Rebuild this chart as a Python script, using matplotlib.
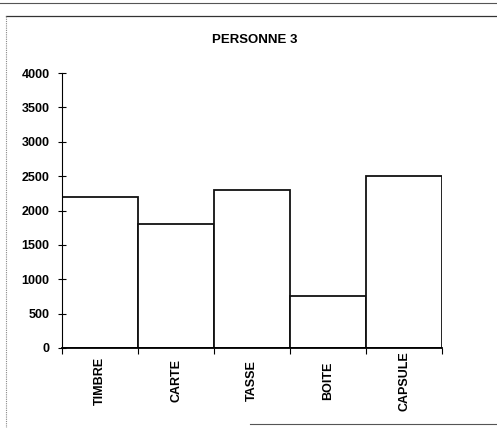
import matplotlib
matplotlib.use("Agg")
import matplotlib.pyplot as plt
from matplotlib.lines import Line2D

# --- DATA ---
categories = ["TIMBRE", "CARTE", "TASSE", "BOITE", "CAPSULE"]
values = [2200, 1800, 2300, 750, 2500]
y_ticks = [0, 500, 1000, 1500, 2000, 2500, 3000, 3500, 4000]
title = "PERSONNE 3"

plt.rcParams['font.family'] = ['Liberation Sans', 'DejaVu Sans']
plt.rcParams['font.weight'] = 'bold'

W, H = 497, 428
fig = plt.figure(figsize=(W / 100, H / 100), dpi=100)
ax = fig.add_axes([62 / W, (H - 348) / H, (442 - 62) / W, (348 - 73) / H])

x = list(range(len(categories)))
ax.bar(x, values, width=1.0, color="white", edgecolor="#111111", linewidth=1.3)

ax.set_xlim(-0.5, len(categories) - 0.5)
ax.set_ylim(0, 4000)
ax.set_yticks(y_ticks)
ax.set_yticklabels([str(v) for v in y_ticks], fontsize=9, fontweight='bold')
ax.tick_params(axis='y', direction='inout', length=6, width=0.8, pad=6)

# category labels centred below the axis, ticks at bar boundaries
ax.set_xticks([])
for i, name in enumerate(categories):
    ax.text(i, -0.12, name, transform=ax.get_xaxis_transform(), rotation=90,
            ha="center", va="center", fontsize=9, fontweight="bold")
ax.set_xticks([i - 0.5 for i in range(len(categories) + 1)], minor=True)
ax.tick_params(axis='x', which='minor', direction='out', length=4, width=0.8)

for side in ("top", "right"):
    ax.spines[side].set_visible(False)
ax.spines["left"].set_linewidth(0.8)
ax.spines["bottom"].set_linewidth(1.3)

fig.text(255 / W, 1 - 40 / H, title, ha="center", va="center",
         fontsize=9.5, fontweight="bold")

# scanned page frame
fig.add_artist(Line2D([0, 1], [1 - 3 / H, 1 - 3 / H], color="#555555", lw=0.8))
fig.add_artist(Line2D([6 / W, 1], [1 - 16 / H, 1 - 16 / H], color="#333333", lw=0.9))
fig.add_artist(Line2D([6 / W, 6 / W], [1 - 16 / H, 0], color="#888888", lw=0.8,
                      linestyle=(0, (1, 1))))
fig.add_artist(Line2D([250 / W, 1], [4 / H, 4 / H], color="#555555", lw=0.8))

fig.savefig("out.png", dpi=100)
